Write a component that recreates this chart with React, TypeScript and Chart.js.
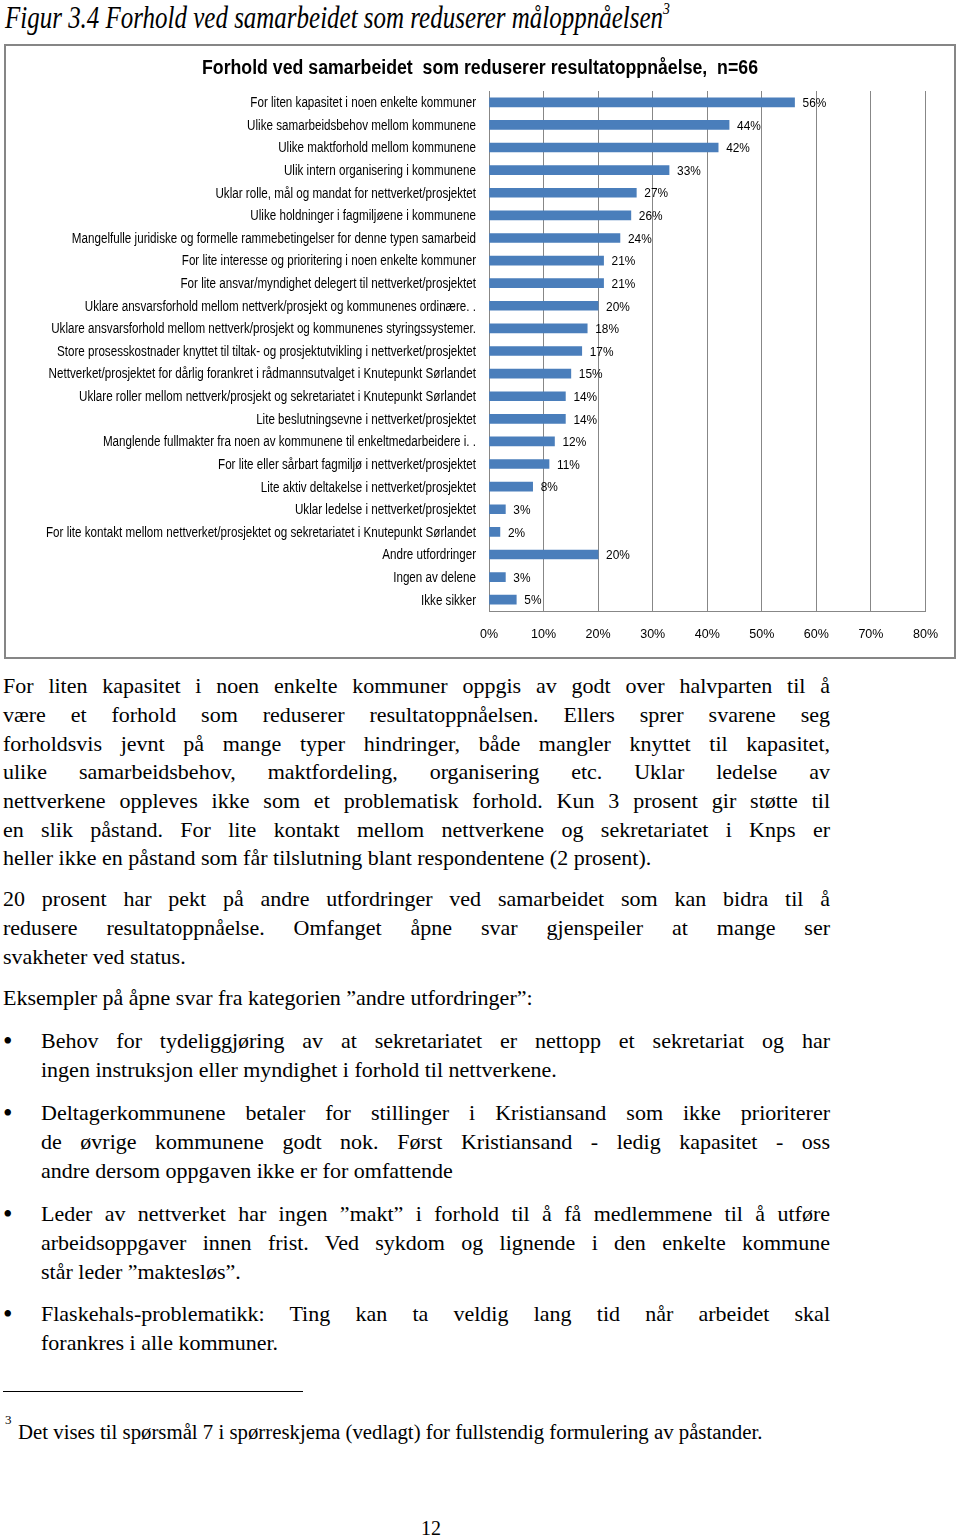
import React, { useEffect, useRef } from "react";
import { Chart, registerables } from "chart.js";

Chart.register(...registerables);

const categories: string[] = [
  "For liten kapasitet i noen enkelte kommuner",
  "Ulike samarbeidsbehov mellom kommunene",
  "Ulike maktforhold mellom kommunene",
  "Ulik intern organisering i kommunene",
  "Uklar rolle, mål og mandat for nettverket/prosjektet",
  "Ulike holdninger i fagmiljøene i kommunene",
  "Mangelfulle juridiske og formelle rammebetingelser for denne typen samarbeid",
  "For lite interesse og prioritering i noen enkelte kommuner",
  "For lite ansvar/myndighet delegert til nettverket/prosjektet",
  "Uklare ansvarsforhold mellom nettverk/prosjekt og kommunenes ordinære. .",
  "Uklare ansvarsforhold mellom nettverk/prosjekt og kommunenes styringssystemer.",
  "Store prosesskostnader knyttet til tiltak- og prosjektutvikling i nettverket/prosjektet",
  "Nettverket/prosjektet for dårlig forankret i rådmannsutvalget i Knutepunkt Sørlandet",
  "Uklare roller mellom nettverk/prosjekt og sekretariatet i Knutepunkt Sørlandet",
  "Lite beslutningsevne i nettverket/prosjektet",
  "Manglende fullmakter fra noen av kommunene til enkeltmedarbeidere i. .",
  "For lite eller sårbart fagmiljø i nettverket/prosjektet",
  "Lite aktiv deltakelse i nettverket/prosjektet",
  "Uklar ledelse i nettverket/prosjektet",
  "For lite kontakt mellom nettverket/prosjektet og sekretariatet i Knutepunkt Sørlandet",
  "Andre utfordringer",
  "Ingen av delene",
  "Ikke sikker",
];

const values: number[] = [56, 44, 42, 33, 27, 26, 24, 21, 21, 20, 18, 17, 15, 14, 14, 12, 11, 8, 3, 2, 20, 3, 5];

const xMin = 0;
const xMax = 80;
const xStep = 10;

const chartTitle = "Forhold ved samarbeidet  som reduserer resultatoppnåelse,  n=66";
const figureTitle = "Figur 3.4 Forhold ved samarbeidet som reduserer måloppnåelsen";

const para1: string[] = [
  "For liten kapasitet i noen enkelte kommuner oppgis av godt over halvparten til å",
  "være et forhold som reduserer resultatoppnåelsen. Ellers sprer svarene seg",
  "forholdsvis jevnt på mange typer hindringer, både mangler knyttet til kapasitet,",
  "ulike samarbeidsbehov, maktfordeling, organisering etc. Uklar ledelse av",
  "nettverkene oppleves ikke som et problematisk forhold. Kun 3 prosent gir støtte til",
  "en slik påstand. For lite kontakt mellom nettverkene og sekretariatet i Knps er",
  "heller ikke en påstand som får tilslutning blant respondentene (2 prosent).",
];
const para2: string[] = [
  "20 prosent har pekt på andre utfordringer ved samarbeidet som kan bidra til å",
  "redusere resultatoppnåelse. Omfanget åpne svar gjenspeiler at mange ser",
  "svakheter ved status.",
];
const para3: string[] = ["Eksempler på åpne svar fra kategorien ”andre utfordringer”:"];
const bullet1: string[] = [
  "Behov for tydeliggjøring av at sekretariatet er nettopp et sekretariat og har",
  "ingen instruksjon eller myndighet i forhold til nettverkene.",
];
const bullet2: string[] = [
  "Deltagerkommunene betaler for stillinger i Kristiansand som ikke prioriterer",
  "de øvrige kommunene godt nok. Først Kristiansand - ledig kapasitet - oss",
  "andre dersom oppgaven ikke er for omfattende",
];
const bullet3: string[] = [
  "Leder av nettverket har ingen ”makt” i forhold til å få medlemmene til å utføre",
  "arbeidsoppgaver innen frist. Ved sykdom og lignende i den enkelte kommune",
  "står leder ”maktesløs”.",
];
const bullet4: string[] = [
  "Flaskehals-problematikk: Ting kan ta veldig lang tid når arbeidet skal",
  "forankres i alle kommuner.",
];
const footnoteText = "Det vises til spørsmål 7 i spørreskjema (vedlagt) for fullstendig formulering av påstander.";
const pageNumber = "12";

const SANS = '"Liberation Sans", Arial, sans-serif';
const SERIF = '"Liberation Serif", "Times New Roman", serif';
const BAR_COLOR = "#4a7ebb";
const GRID_COLOR = "#878787";

// Condensed text drawing helper (the reference uses a squeezed Arial)
function drawSqueezed(ctx: CanvasRenderingContext2D, text: string, x: number, y: number, sx: number) {
  ctx.save();
  ctx.translate(x, y);
  ctx.scale(sx, 1);
  ctx.fillText(text, 0, 0);
  ctx.restore();
}

const textPlugin = {
  id: "squeezedText",
  afterDraw(chart: any) {
    const ctx: CanvasRenderingContext2D = chart.ctx;
    const area = chart.chartArea;
    const yScale = chart.scales.y;
    const labels: string[] = chart.data.labels;
    ctx.save();
    ctx.fillStyle = "#000";

    // Title
    ctx.font = `bold 20px ${SANS}`;
    ctx.textAlign = "center";
    ctx.textBaseline = "middle";
    const tw = ctx.measureText(chartTitle).width;
    drawSqueezed(ctx, chartTitle, chart.width / 2, 22, 556 / tw);

    // Category labels
    ctx.font = `14px ${SANS}`;
    ctx.textAlign = "right";
    ctx.textBaseline = "middle";
    const maxW = Math.max(...labels.map((l) => ctx.measureText(l).width));
    const sx = 430 / maxW;
    const xr = area.left - 13;
    labels.forEach((l, i) => {
      drawSqueezed(ctx, l, xr, yScale.getPixelForValue(i) + 1, sx);
    });

    // Value labels
    ctx.font = `13.5px ${SANS}`;
    ctx.textAlign = "left";
    const meta = chart.getDatasetMeta(0);
    const data = chart.data.datasets[0].data as number[];
    meta.data.forEach((bar: any, i: number) => {
      drawSqueezed(ctx, `${data[i]}%`, bar.x + 8, bar.y + 1, 0.88);
    });
    ctx.restore();
  },
};

function BarChart() {
  const ref = useRef<HTMLCanvasElement | null>(null);
  useEffect(() => {
    if (!ref.current) return;
    const chart = new Chart(ref.current, {
      type: "bar",
      data: {
        labels: categories,
        datasets: [
          {
            data: values,
            backgroundColor: BAR_COLOR,
            borderWidth: 0,
            barThickness: 9,
          },
        ],
      },
      options: {
        indexAxis: "y",
        animation: false,
        responsive: false,
        maintainAspectRatio: false,
        layout: { padding: { left: 0, right: 27, top: 45, bottom: 0 } },
        plugins: {
          legend: { display: false },
          tooltip: { enabled: false },
          title: { display: false },
        },
        scales: {
          x: {
            type: "linear",
            min: xMin,
            max: xMax,
            position: "bottom",
            ticks: {
              stepSize: xStep,
              color: "#000",
              font: { family: SANS, size: 12.5 },
              padding: 16,
              callback: (v: any) => `${v}%`,
            },
            grid: { color: GRID_COLOR, lineWidth: 1, drawTicks: false },
            border: { display: true, color: GRID_COLOR, width: 1 },
            afterFit: (scale: any) => {
              scale.height = 46;
            },
          },
          y: {
            type: "category",
            ticks: { display: false },
            grid: { display: false, drawTicks: false },
            border: { display: true, color: GRID_COLOR, width: 1 },
            afterFit: (scale: any) => {
              scale.width = 483;
            },
          },
        },
      },
      plugins: [textPlugin],
    });
    return () => chart.destroy();
  }, []);
  return <canvas ref={ref} width={948} height={611} style={{ display: "block", width: 948, height: 611 }} />;
}

function measure(text: string, font: string): number {
  const c = document.createElement("canvas");
  const ctx = c.getContext("2d");
  if (!ctx) return 0;
  ctx.font = font;
  return ctx.measureText(text).width;
}

const LH = 28.7;

function Block({ top, left, width, lines, bullet }: { top: number; left: number; width: number; lines: string[]; bullet?: boolean }) {
  return (
    <div style={{ position: "absolute", top, left, width, fontFamily: SERIF, fontSize: 22, lineHeight: `${LH}px`, color: "#000" }}>
      {bullet && (
        <div style={{ position: "absolute", left: 3 - left, top: 0, fontSize: 27, lineHeight: `${LH}px` }}>•</div>
      )}
      {lines.map((l, i) => {
        const last = i === lines.length - 1;
        return (
          <div
            key={i}
            style={{
              whiteSpace: "nowrap",
              textAlign: last ? "left" : "justify",
              textAlignLast: last ? "left" : "justify",
              height: LH,
            } as any}
          >
            {l}
          </div>
        );
      })}
    </div>
  );
}

export default function App() {
  const titleFont = `italic 31px ${SERIF}`;
  const w = measure(figureTitle, titleFont) || 660;
  const sx = 658 / w;
  return (
    <div style={{ position: "absolute", left: 0, top: 0, width: 960, height: 1536, background: "#fff", overflow: "hidden" }}>
      <div
        style={{
          position: "absolute",
          left: 5,
          top: 0,
          whiteSpace: "nowrap",
          font: titleFont,
          lineHeight: "36px",
          transformOrigin: "0 0",
          transform: `scaleX(${sx})`,
          color: "#000",
        }}
      >
        {figureTitle}
        <span style={{ fontSize: 17, position: "relative", top: -14 }}>3</span>
      </div>
      <div
        style={{
          position: "absolute",
          left: 4,
          top: 44,
          width: 952,
          height: 615,
          border: "2px solid #868686",
          boxSizing: "border-box",
          background: "#fff",
        }}
      >
        <BarChart />
      </div>
      <Block top={672.3} left={3} width={827} lines={para1} />
      <Block top={885.3} left={3} width={827} lines={para2} />
      <Block top={984.3} left={3} width={827} lines={para3} />
      <Block top={1027.3} left={41} width={789} lines={bullet1} bullet />
      <Block top={1099.3} left={41} width={789} lines={bullet2} bullet />
      <Block top={1200.3} left={41} width={789} lines={bullet3} bullet />
      <Block top={1300.3} left={41} width={789} lines={bullet4} bullet />
      <div style={{ position: "absolute", left: 3, top: 1391, width: 300, height: 1, background: "#000" }} />
      <div style={{ position: "absolute", left: 5, top: 1413, fontFamily: SERIF, fontSize: 13, lineHeight: "14px" }}>3</div>
      <div style={{ position: "absolute", left: 18, top: 1420, fontFamily: SERIF, fontSize: 20.8, lineHeight: "24px", whiteSpace: "nowrap" }}>
        {footnoteText}
      </div>
      <div style={{ position: "absolute", left: 421, top: 1516, fontFamily: SERIF, fontSize: 20, lineHeight: "24px" }}>{pageNumber}</div>
    </div>
  );
}
